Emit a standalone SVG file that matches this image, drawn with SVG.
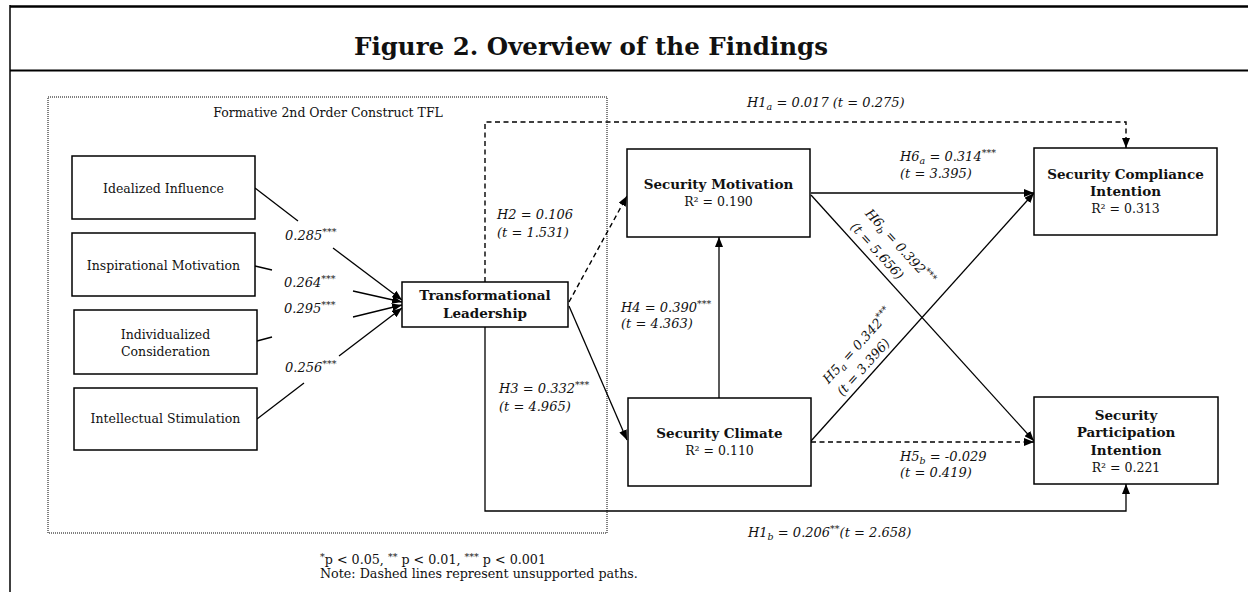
<svg xmlns="http://www.w3.org/2000/svg" width="1248" height="592" viewBox="0 0 1248 592">
<defs>
<style>
.box{fill:#fff;stroke:#000;stroke-width:1.5}
.reg{font-family:"DejaVu Serif","Liberation Serif",serif;font-size:12.5px;fill:#111}
.bold{font-family:"DejaVu Serif","Liberation Serif",serif;font-size:13.5px;font-weight:bold;fill:#111}
.lab{font-family:"DejaVu Serif","Liberation Serif",serif;font-size:13px;font-style:italic;fill:#111}
.foot{font-family:"DejaVu Serif","Liberation Serif",serif;font-size:12.7px;fill:#111}
.sm{font-size:9.5px}
.ln{fill:none;stroke:#000;stroke-width:1.3}
.dash{fill:none;stroke:#000;stroke-width:1.4;stroke-dasharray:5 3.5}
</style>
<marker id="ah" markerUnits="userSpaceOnUse" markerWidth="10" markerHeight="8" refX="10" refY="4" orient="auto">
<path d="M0,0 L10,4 L0,8 z" fill="#000"/>
</marker>
</defs>
<rect width="1248" height="592" fill="#fff"/>
<g id="frame">
<line x1="10" y1="6.5" x2="1248" y2="6.5" stroke="#000" stroke-width="2.5"/>
<line x1="10" y1="70.5" x2="1248" y2="70.5" stroke="#000" stroke-width="2.2"/>
<line x1="10" y1="5" x2="10" y2="592" stroke="#000" stroke-width="1.5"/>
<text x="591" y="55" text-anchor="middle" font-family="DejaVu Serif, Liberation Serif, serif" font-size="24.5" font-weight="bold" fill="#111">Figure 2. Overview of the Findings</text>
</g>
<g id="tfl-group">
<rect x="48" y="97" width="559" height="436" fill="none" stroke="#000" stroke-width="1" stroke-dasharray="1 1"/>
<text class="reg" x="328" y="117" text-anchor="middle" font-size="12">Formative 2nd Order Construct TFL</text>
</g>
<g id="connectors">
<path class="ln" d="M255,188 L298,221"/><path class="ln" d="M333,248 L402,300" marker-end="url(#ah)"/>
<path class="ln" d="M255,266 L272,270"/><path class="ln" d="M353,291 L402,302" marker-end="url(#ah)"/>
<path class="ln" d="M257,341 L272,337"/><path class="ln" d="M353,317 L402,305" marker-end="url(#ah)"/>
<path class="ln" d="M257,419 L304,383"/><path class="ln" d="M339,356 L402,308" marker-end="url(#ah)"/>
<path class="dash" d="M485,282 V122 H1126 V148" marker-end="url(#ah)"/>
<path class="ln" d="M485,327 V511 H1126 V484" marker-end="url(#ah)"/>
<path class="dash" d="M569,302 L627,196" marker-end="url(#ah)"/>
<path class="ln" d="M569,306 L627,440" marker-end="url(#ah)"/>
<path class="ln" d="M719,398 V237" marker-end="url(#ah)"/>
<path class="ln" d="M811,193 H1034" marker-end="url(#ah)"/>
<path class="ln" d="M811,195 L1034,441" marker-end="url(#ah)"/>
<path class="ln" d="M811,441 L1034,193" marker-end="url(#ah)"/>
<path class="dash" d="M811,442 H1034" marker-end="url(#ah)"/>
</g>
<g id="labels">
<text class="lab" x="285" y="240">0.285<tspan class="sm" dy="-5">***</tspan></text>
<text class="lab" x="284" y="287">0.264<tspan class="sm" dy="-5">***</tspan></text>
<text class="lab" x="284" y="313">0.295<tspan class="sm" dy="-5">***</tspan></text>
<text class="lab" x="285" y="372">0.256<tspan class="sm" dy="-5">***</tspan></text>
<text class="lab" x="747" y="107">H1<tspan class="sm" dy="3">a</tspan><tspan dy="-3"> = 0.017 (t = 0.275)</tspan></text>
<text class="lab" x="497" y="219">H2 =  0.106</text>
<text class="lab" x="497" y="237">(t = 1.531)</text>
<text class="lab" x="499" y="393">H3 = 0.332<tspan class="sm" dy="-5">***</tspan></text>
<text class="lab" x="499" y="411">(t = 4.965)</text>
<text class="lab" x="621" y="312">H4 = 0.390<tspan class="sm" dy="-5">***</tspan></text>
<text class="lab" x="621" y="328">(t = 4.363)</text>
<text class="lab" x="900" y="161">H6<tspan class="sm" dy="3">a</tspan><tspan dy="-3"> = 0.314</tspan><tspan class="sm" dy="-5">***</tspan></text>
<text class="lab" x="900" y="178">(t = 3.395)</text>
<text class="lab" x="900" y="461">H5<tspan class="sm" dy="3">b</tspan><tspan dy="-3"> = -0.029</tspan></text>
<text class="lab" x="900" y="477">(t = 0.419)</text>
<text class="lab" x="748" y="537">H1<tspan class="sm" dy="3">b</tspan><tspan dy="-3"> = 0.206</tspan><tspan class="sm" dy="-5">**</tspan><tspan dy="5">(t = 2.658)</tspan></text>
<g transform="translate(811,195) rotate(47.8)">
<text class="lab" x="50" y="-27">H6<tspan class="sm" dy="3">b</tspan><tspan dy="-3"> = 0.392</tspan><tspan class="sm" dy="-5">***</tspan></text>
<text class="lab" x="50" y="-7">(t = 5.656)</text>
</g>
<g transform="translate(811,441) rotate(-48)">
<text class="lab" x="54" y="-25">H5<tspan class="sm" dy="3">a</tspan><tspan dy="-3"> = 0.342</tspan><tspan class="sm" dy="-5">***</tspan></text>
<text class="lab" x="54" y="-6">(t = 3.396)</text>
</g>
</g>
<g id="idealized-influence">
<rect class="box" x="72" y="156" width="183" height="63"/>
<text class="reg" x="163.5" y="193" text-anchor="middle">Idealized Influence</text>
</g>
<g id="inspirational-motivation">
<rect class="box" x="72" y="233" width="183" height="63"/>
<text class="reg" x="163.5" y="270" text-anchor="middle">Inspirational Motivation</text>
</g>
<g id="individualized-consideration">
<rect class="box" x="74" y="310" width="183" height="64"/>
<text class="reg" x="165.5" y="339" text-anchor="middle">Individualized</text>
<text class="reg" x="165.5" y="356" text-anchor="middle">Consideration</text>
</g>
<g id="intellectual-stimulation">
<rect class="box" x="74" y="388" width="183" height="62"/>
<text class="reg" x="165.5" y="423" text-anchor="middle">Intellectual Stimulation</text>
</g>
<g id="transformational-leadership">
<rect class="box" x="402" y="282" width="166" height="45"/>
<text class="bold" x="485" y="300" text-anchor="middle">Transformational</text>
<text class="bold" x="485" y="318" text-anchor="middle">Leadership</text>
</g>
<g id="security-motivation">
<rect class="box" x="627" y="149" width="183" height="88"/>
<text class="bold" x="718.5" y="189" text-anchor="middle">Security Motivation</text>
<text class="reg" x="718.5" y="206" text-anchor="middle">R² = 0.190</text>
</g>
<g id="security-climate">
<rect class="box" x="628" y="398" width="183" height="88"/>
<text class="bold" x="719.5" y="438" text-anchor="middle">Security Climate</text>
<text class="reg" x="719.5" y="455" text-anchor="middle">R² = 0.110</text>
</g>
<g id="security-compliance-intention">
<rect class="box" x="1034" y="148" width="183" height="87"/>
<text class="bold" x="1125.5" y="179" text-anchor="middle">Security Compliance</text>
<text class="bold" x="1125.5" y="196" text-anchor="middle">Intention</text>
<text class="reg" x="1125.5" y="213" text-anchor="middle">R² = 0.313</text>
</g>
<g id="security-participation-intention">
<rect class="box" x="1034" y="397" width="184" height="87"/>
<text class="bold" x="1126" y="420" text-anchor="middle">Security</text>
<text class="bold" x="1126" y="437" text-anchor="middle">Participation</text>
<text class="bold" x="1126" y="455" text-anchor="middle">Intention</text>
<text class="reg" x="1126" y="472" text-anchor="middle">R² = 0.221</text>
</g>
<g id="footnote">
<text class="foot" x="320" y="564"><tspan class="sm" dy="-4">*</tspan><tspan dy="4">p &lt; 0.05, </tspan><tspan class="sm" dy="-4">**</tspan><tspan dy="4"> p &lt; 0.01, </tspan><tspan class="sm" dy="-4">***</tspan><tspan dy="4"> p &lt; 0.001</tspan></text>
<text class="foot" x="320" y="578">Note: Dashed lines represent unsupported paths.</text>
</g>
</svg>
